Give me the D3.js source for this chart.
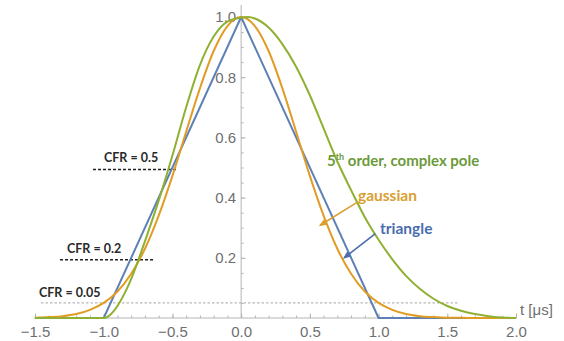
<!DOCTYPE html>
<html>
<head>
<meta charset="utf-8">
<script src="https://cdn.jsdelivr.net/npm/d3@7"></script>
<style>
  body { margin: 0; background: #fff; }
  svg { display: block; }
  .tick text { font-family: "Liberation Sans", Arial, sans-serif; fill: #6f6f6f; }
  .ann { font-family: Lato, "Open Sans", sans-serif; font-weight: bold; }
</style>
</head>
<body>
<svg id="chart" width="564" height="341"></svg>
<script>
// tick values
var xTicks = [-1.5, -1.0, -0.5, 0.0, 0.5, 1.0, 1.5, 2.0];
var yTicks = [0.2, 0.4, 0.6, 0.8, 1.0];

// triangle pulse
var triT = [-1.5, -1.0, 0.0, 1.0, 2.0];
var triV = [0, 0, 1, 0, 0];

// gaussian pulse
var gaussT = [-1.5, -1.4, -1.3, -1.2, -1.1, -1.0, -0.9, -0.8, -0.7, -0.6, -0.5, -0.4, -0.3, -0.2, -0.1,
              0.0, 0.1, 0.2, 0.3, 0.4, 0.5, 0.6, 0.7, 0.8, 0.9, 1.0, 1.1, 1.2, 1.3, 1.4, 1.5,
              1.6, 1.7, 1.8, 1.9, 2.0];
var gaussV = [0.001, 0.003, 0.006, 0.013, 0.027, 0.05, 0.088, 0.147, 0.23, 0.34, 0.472, 0.619, 0.763, 0.887, 0.97,
              1.0, 0.97, 0.887, 0.763, 0.619, 0.472, 0.34, 0.23, 0.147, 0.088, 0.05, 0.027, 0.013, 0.006, 0.003, 0.001,
              0.0005, 0.0002, 0.0001, 0, 0];

// 5th order, complex pole
var poleT = [-1.5, -1.0, -0.95, -0.9, -0.85, -0.8, -0.75, -0.7, -0.6, -0.5, -0.4, -0.3, -0.2, -0.1,
             0.0, 0.05, 0.1, 0.2, 0.3, 0.4, 0.5, 0.6, 0.7, 0.8, 0.9, 1.0, 1.1, 1.2, 1.3, 1.4, 1.5,
             1.6, 1.7, 1.8, 1.9, 2.0];
var poleV = [0, 0, 0.012, 0.04, 0.08, 0.13, 0.19, 0.255, 0.39, 0.54, 0.70, 0.84, 0.935, 0.985,
             0.998, 1.0, 0.995, 0.965, 0.91, 0.835, 0.74, 0.63, 0.52, 0.425, 0.335, 0.26, 0.195, 0.14, 0.097, 0.064, 0.04,
             0.024, 0.013, 0.006, 0.002, 0];

// CFR threshold markers
var cfrLevels = [0.5, 0.2, 0.05];
var cfrLabels = ["CFR = 0.5", "CFR = 0.2", "CFR = 0.05"];

var svg = d3.select("#chart");
var x = d3.scaleLinear().domain([-1.5, 2.0]).range([35, 516]);
var y = d3.scaleLinear().domain([0, 1]).range([318, 17]);

var axisColor = "#b4b4b4";
var blue = "#5e81b5", orange = "#e19c24", green = "#8fb032";

// x axis: minor ticks then major
var xMinor = d3.range(-15, 21).map(function(d) { return d / 10; });
svg.append("g")
    .attr("transform", "translate(0," + y(0) + ")")
    .call(d3.axisBottom(x).tickValues(xMinor).tickFormat("").tickSizeInner(-2.5).tickSizeOuter(0))
    .call(function(g) { g.select(".domain").remove(); g.selectAll("line").attr("stroke", axisColor); });

svg.append("g")
    .attr("transform", "translate(0," + y(0) + ")")
    .call(d3.axisBottom(x).tickValues(xTicks).tickFormat(d3.format(".1f")).tickSizeInner(-4.5).tickSizeOuter(0).tickPadding(8))
    .call(function(g) {
      g.select(".domain").attr("stroke", axisColor).attr("d", "M34,0H517");
      g.selectAll("line").attr("stroke", axisColor);
      g.selectAll("text").attr("font-size", 15);
    });

// y axis
var yMinor = d3.range(1, 21).map(function(d) { return d / 20; });
svg.append("g")
    .attr("transform", "translate(" + x(0) + ",0)")
    .call(d3.axisLeft(y).tickValues(yMinor).tickFormat("").tickSizeInner(-2.5).tickSizeOuter(0))
    .call(function(g) { g.select(".domain").remove(); g.selectAll("line").attr("stroke", axisColor); });

svg.append("g")
    .attr("transform", "translate(" + x(0) + ",0)")
    .call(d3.axisLeft(y).tickValues(yTicks).tickFormat(d3.format(".1f")).tickSizeInner(-4.5).tickSizeOuter(0).tickPadding(5))
    .call(function(g) {
      g.select(".domain").attr("stroke", axisColor).attr("d", "M0,318V5");
      g.selectAll("line").attr("stroke", axisColor);
      g.selectAll("text").attr("font-size", 15);
    });

svg.append("text")
    .attr("x", 520).attr("y", 315)
    .attr("font-family", "Liberation Sans, Arial, sans-serif")
    .attr("font-size", 15).attr("fill", "#6f6f6f")
    .text("t [μs]");

// gray dashed 0.05 level
svg.append("line")
    .attr("x1", 41).attr("x2", 459)
    .attr("y1", y(0.05)).attr("y2", y(0.05))
    .attr("stroke", "#b8b8b8").attr("stroke-width", 1.2)
    .attr("stroke-dasharray", "2.5,2");

// black dashed CFR lines
var cfrLine = [[93, 177], [60, 153]];
var cfrText = [[104, 162], [67, 253], [39, 297]];
cfrLevels.forEach(function(lv, i) {
  if (i < 2) {
    svg.append("line")
        .attr("x1", cfrLine[i][0]).attr("x2", cfrLine[i][1])
        .attr("y1", y(lv) + 2).attr("y2", y(lv) + 2)
        .attr("stroke", "#222").attr("stroke-width", 1.5)
        .attr("stroke-dasharray", "3,2");
  }
  svg.append("text")
      .attr("class", "ann")
      .attr("x", cfrText[i][0]).attr("y", cfrText[i][1])
      .attr("font-size", 12.5).attr("fill", "#2a2a2a")
      .text(cfrLabels[i]);
});

// curves
function series(ts, vs) { return ts.map(function(t, i) { return [t, vs[i]]; }); }

var straight = d3.line().x(function(d) { return x(d[0]); }).y(function(d) { return y(d[1]); });
var smooth = d3.line().curve(d3.curveMonotoneX).x(function(d) { return x(d[0]); }).y(function(d) { return y(d[1]); });

svg.append("path").attr("d", straight(series(triT, triV)))
    .attr("fill", "none").attr("stroke", blue).attr("stroke-width", 2).attr("stroke-linejoin", "round");
svg.append("path").attr("d", smooth(series(gaussT, gaussV)))
    .attr("fill", "none").attr("stroke", orange).attr("stroke-width", 2);
svg.append("path").attr("d", smooth(series(poleT, poleV)))
    .attr("fill", "none").attr("stroke", green).attr("stroke-width", 2);

// arrow markers
var defs = svg.append("defs");
[["arrOrange", "#d9a031"], ["arrBlue", "#4a6db0"]].forEach(function(m) {
  defs.append("marker")
      .attr("id", m[0]).attr("viewBox", "0 0 10 10")
      .attr("refX", 8).attr("refY", 5)
      .attr("markerWidth", 5).attr("markerHeight", 5)
      .attr("orient", "auto")
    .append("path").attr("d", "M0,1L10,5L0,9z").attr("fill", m[1]);
});

svg.append("line")
    .attr("x1", x(0.843)).attr("y1", y(0.384))
    .attr("x2", x(0.575)).attr("y2", y(0.308))
    .attr("stroke", "#d9a031").attr("stroke-width", 1.6)
    .attr("marker-end", "url(#arrOrange)");

svg.append("line")
    .attr("x1", x(0.977)).attr("y1", y(0.28))
    .attr("x2", x(0.75)).attr("y2", y(0.2))
    .attr("stroke", "#4a6db0").attr("stroke-width", 1.6)
    .attr("marker-end", "url(#arrBlue)");

// labels
var poleLabel = svg.append("text").attr("class", "ann")
    .attr("x", 327).attr("y", 166).attr("font-size", 15).attr("fill", "#6c9a3a");
poleLabel.append("tspan").text("5");
poleLabel.append("tspan").attr("font-size", 9).attr("dy", -6).text("th");
poleLabel.append("tspan").attr("dy", 6).text(" order, complex pole");

svg.append("text").attr("class", "ann")
    .attr("x", 358).attr("y", 201).attr("font-size", 15.5).attr("fill", "#d9a031")
    .text("gaussian");

svg.append("text").attr("class", "ann")
    .attr("x", 380).attr("y", 234).attr("font-size", 15.5).attr("fill", "#4a6db0")
    .text("triangle");
</script>
</body>
</html>
